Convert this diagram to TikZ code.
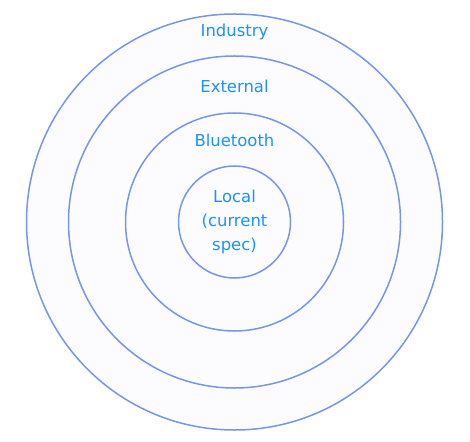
\documentclass[tikz,border=0pt]{standalone}
\usepackage{fontspec}
\setmainfont{DejaVu Sans}
\usetikzlibrary{positioning}

\definecolor{ringblue}{RGB}{118,150,236}
\definecolor{ringfill}{RGB}{252,252,255}
\definecolor{labelblue}{RGB}{30,144,255}

\begin{document}
\begin{tikzpicture}[
  x=1bp, y=-1bp,
  font=\fontsize{16.5}{24}\selectfont,
  ring/.style={circle, draw=ringblue, fill=ringfill, line width=1.5bp, inner sep=0pt},
  lab/.style={text=labelblue, align=center, inner sep=0pt}
]
\useasboundingbox (0,0) rectangle (470,442);

% ---------------- rings, outside in ----------------
\node[ring, minimum size=416bp] (industry) at (234.5,222) {};
\node[ring, minimum size=332bp] (external) at (industry.center) {};
\node[ring, minimum size=218bp] (bluetooth) at (industry.center) {};
\node[ring, minimum size=112bp] (local) at (industry.center) {};

% ---------------- labels ----------------
\node[lab] (industrylab) at (234.5,32) {Industry};
\node[lab] (externallab) at (234.5,86) {External};
\node[lab] (bluetoothlab) at (234.5,140) {Bluetooth};
\node[lab] (locallab) at (local.center) {Local\\(current\\spec)};

\end{tikzpicture}
\end{document}
